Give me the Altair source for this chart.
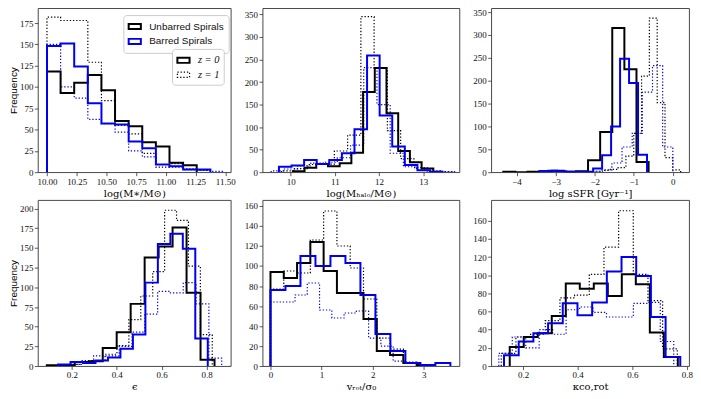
import altair as alt
import pandas as pd

GAL = ["Unbarred Spirals", "Barred Spirals"]
ZL = ["z = 0", "z = 1"]

# ---- Panel 1: log(M*/Msun) ----  (lo, hi) bin range and counts per series
mstar_rng = {"u0": (10.0, 11.26), "u1": (10.0, 11.375), "b0": (10.0, 11.375), "b1": (10.0, 11.49)}
mstar_u0 = [118, 93, 105, 114, 96, 60, 54, 35, 30, 11, 8]
mstar_u1 = [182, 178, 178, 129, 84, 55, 45, 22, 6, 10, 3, 2]
mstar_b0 = [148, 151, 124, 81, 57, 56, 36, 28, 9, 7, 3, 3]
mstar_b1 = [150, 100, 87, 62, 57, 47, 25, 18, 9, 6, 4, 2, 1]

# ---- Panel 2: log(Mhalo/Msun) ----
mhalo_rng = {"u0": (10.05, 13.23), "u1": (9.79, 13.69), "b0": (9.735, 13.44), "b1": (9.56, 13.75)}
mhalo_u0 = [2, 10, 18, 13, 20, 43, 178, 231, 131, 47, 22, 8]
mhalo_u1 = [3, 8, 17, 18, 47, 82, 345, 231, 92, 30, 10, 3, 1]
mhalo_b0 = [12, 15, 27, 18, 27, 42, 95, 259, 126, 57, 16, 4, 1]
mhalo_b1 = [3, 7, 14, 20, 22, 32, 60, 232, 150, 42, 12, 5, 2, 1]

# ---- Panel 3: log sSFR ----
ssfr_rng = {"u0": (-4.34, -0.62), "u1": (-2.2, 0.2), "b0": (-3.42, -0.66), "b1": (-2.34, 0.0)}
ssfr_u0 = [1, 0, 1, 2, 3, 1, 2, 26, 88, 315, 225, 22]
ssfr_u1 = [1, 2, 4, 6, 10, 35, 85, 210, 337, 152, 32, 5]
ssfr_b0 = [2, 3, 2, 1, 1, 1, 8, 37, 100, 248, 195, 38]
ssfr_b1 = [1, 2, 5, 20, 55, 85, 175, 233, 55]

# ---- Panel 4: epsilon ----
eps_rng = {"u0": (0.089, 0.835), "u1": (0.189, 0.825), "b0": (0.139, 0.805), "b1": (0.183, 0.867)}
eps_u0 = [1, 1, 5, 6, 23, 43, 79, 138, 152, 176, 93, 8]
eps_u1 = [2, 5, 7, 15, 26, 59, 89, 120, 198, 185, 127, 40]
eps_b0 = [2, 5, 4, 7, 11, 22, 40, 106, 155, 168, 149, 35]
eps_b1 = [2, 7, 13, 13, 25, 43, 66, 95, 93, 106, 79, 10]

# ---- Panel 5: v_rot/sigma_0 ----
vrot_rng = {"u0": (0.0, 3.12), "u1": (0.0, 3.12), "b0": (0.0, 3.52), "b1": (0.0, 3.12)}
vrot_u0 = [94, 88, 103, 124, 95, 73, 73, 47, 15, 11, 3, 1]
vrot_u1 = [77, 95, 93, 126, 155, 120, 98, 67, 28, 17, 4, 1]
vrot_b0 = [76, 80, 110, 100, 110, 103, 71, 32, 15, 3, 1, 3]
vrot_b1 = [64, 64, 71, 83, 56, 48, 53, 55, 28, 20, 5, 3, 1]

# ---- Panel 6: kappa_co,rot ----
kap_rng = {"u0": (0.151, 0.767), "u1": (0.12, 0.765), "b0": (0.13, 0.776), "b1": (0.111, 0.752)}
kap_u0 = [21, 32, 36, 55, 91, 85, 91, 77, 101, 90, 37, 10]
kap_u1 = [14, 32, 35, 50, 75, 78, 101, 131, 171, 101, 72, 19]
kap_b0 = [12, 27, 36, 47, 69, 56, 70, 104, 120, 99, 54, 10]
kap_b1 = [14, 32, 20, 40, 35, 62, 65, 59, 54, 54, 69, 70, 27]

SERIES = {"u0": (GAL[0], ZL[0]), "u1": (GAL[0], ZL[1]), "b0": (GAL[1], ZL[0]), "b1": (GAL[1], ZL[1])}
DRAW_ORDER = ["u1", "b1", "u0", "b0"]


def table(rng, counts):
    rows = []
    for key in DRAW_ORDER:
        lo, hi = rng[key]
        cs = counts[key]
        n = len(cs)
        w = (hi - lo) / n
        pts = [(lo, 0)]
        for i, c in enumerate(cs):
            pts.append((lo + i * w, c))
            pts.append((lo + (i + 1) * w, c))
        pts.append((hi, 0))
        gal, z = SERIES[key]
        for j, (x, y) in enumerate(pts):
            rows.append({"x": x, "y": y, "i": j, "key": key, "gal": gal, "z": z})
    return pd.DataFrame(rows)


def panel(df, xdom, ydom, xticks, yticks, xtitle, xfmt, ytitle, w, h, legend):
    color_leg = None
    dash_leg = None
    if legend:
        color_leg = alt.Legend(title=None, orient="none", legendX=86, legendY=7,
                               labelFont="Liberation Sans", labelFontSize=10)
        dash_leg = alt.Legend(title=None, orient="none", legendX=135, legendY=41,
                              labelFont="Liberation Serif",
                              labelFontStyle="italic", labelFontSize=10.5,
                              symbolStrokeColor="black", symbolStrokeWidth=1.6)
    yaxis = alt.Axis(values=yticks, title=ytitle, titleFont="Liberation Sans",
                     titleFontSize=10, titlePadding=1) if ytitle else alt.Axis(values=yticks, title=None)
    return alt.Chart(df).mark_line(interpolate="linear", strokeJoin="miter", clip=True).encode(
        x=alt.X("x:Q", scale=alt.Scale(domain=xdom, nice=False, zero=False),
                axis=alt.Axis(values=xticks, format=xfmt, title=xtitle, titleFont="DejaVu Serif",
                              titleFontSize=10, titlePadding=2)),
        y=alt.Y("y:Q", scale=alt.Scale(domain=ydom, nice=False, zero=False), axis=yaxis),
        color=alt.Color("gal:N", scale=alt.Scale(domain=GAL, range=["#000000", "#0000ee"]), legend=color_leg),
        strokeDash=alt.StrokeDash("z:N", scale=alt.Scale(domain=ZL, range=[[1, 0], [1.3, 1.9]]), legend=dash_leg),
        strokeWidth=alt.StrokeWidth("z:N", scale=alt.Scale(domain=ZL, range=[2.0, 1.2]), legend=None),
        detail="key:N",
        order="i:Q",
    ).properties(width=w, height=h)


p1 = panel(table(mstar_rng, {"u0": mstar_u0, "u1": mstar_u1, "b0": mstar_b0, "b1": mstar_b1}),
           [9.923, 11.546], [0, 192.5], [10.0, 10.25, 10.5, 10.75, 11.0, 11.25, 11.5],
           [0, 25, 50, 75, 100, 125, 150, 175], "log(M∗/M⊙)", ".2f", "Frequency", 194, 165, True)
p2 = panel(table(mhalo_rng, {"u0": mhalo_u0, "u1": mhalo_u1, "b0": mhalo_b0, "b1": mhalo_b1}),
           [9.363, 13.82], [0, 364], [10, 11, 12, 13],
           [0, 50, 100, 150, 200, 250, 300, 350], "log(Mₕₐₗₒ/M⊙)", "d", None, 198, 165, False)
p3 = panel(table(ssfr_rng, {"u0": ssfr_u0, "u1": ssfr_u1, "b0": ssfr_b0, "b1": ssfr_b1}),
           [-4.65, 0.415], [0, 358.7], [-4, -3, -2, -1, 0],
           [0, 50, 100, 150, 200, 250, 300, 350], "log sSFR [Gyr⁻¹]", "d", None, 199, 165, False)
p4 = panel(table(eps_rng, {"u0": eps_u0, "u1": eps_u1, "b0": eps_b0, "b1": eps_b1}),
           [0.049, 0.907], [0, 211], [0.2, 0.4, 0.6, 0.8],
           [0, 25, 50, 75, 100, 125, 150, 175, 200], "ϵ", ".1f", "Frequency", 194, 167, False)
p5 = panel(table(vrot_rng, {"u0": vrot_u0, "u1": vrot_u1, "b0": vrot_b0, "b1": vrot_b1}),
           [-0.156, 3.696], [0, 166], [0, 1, 2, 3],
           [0, 20, 40, 60, 80, 100, 120, 140, 160], "vᵣₒₜ/σ₀", "d", None, 198, 167, False)
p6 = panel(table(kap_rng, {"u0": kap_u0, "u1": kap_u1, "b0": kap_b0, "b1": kap_b1}),
           [0.083, 0.808], [0, 182.8], [0.2, 0.4, 0.6, 0.8],
           [0, 20, 40, 60, 80, 100, 120, 140, 160], "κco,rot", ".1f", None, 199, 167, False)

res = dict(color="independent", strokeDash="independent", strokeWidth="independent")
top = alt.hconcat(p1, p2, p3, spacing=32, bounds="flush").resolve_scale(**res).resolve_legend(
    color="independent", strokeDash="independent")
bottom = alt.hconcat(p4, p5, p6, spacing=32, bounds="flush").resolve_scale(**res).resolve_legend(
    color="independent", strokeDash="independent")

chart = alt.vconcat(top, bottom, spacing=0).resolve_scale(**res).resolve_legend(
    color="independent", strokeDash="independent"
).properties(
    padding={"left": 0, "top": -2, "right": 0, "bottom": 0}
).configure(font="Liberation Serif").configure_view(
    stroke="#333333", strokeWidth=0.9
).configure_axis(
    domain=False, grid=False, ticks=True, tickSize=3.5, tickWidth=0.8, tickColor="#333333",
    labelFont="Liberation Serif", labelFontSize=9, labelColor="#111111", labelPadding=1.5,
    titleFontWeight="normal", titleColor="#000000"
).configure_legend(
    fillColor="white", strokeColor="#cccccc", cornerRadius=3, padding=4,
    symbolType="M-1,-0.42H1V0.42H-1Z", symbolSize=150, symbolStrokeWidth=2,
    rowPadding=0, labelOffset=7, labelColor="#111111"
)

chart.save("out.html", embed_options={"renderer": "svg", "actions": False})
